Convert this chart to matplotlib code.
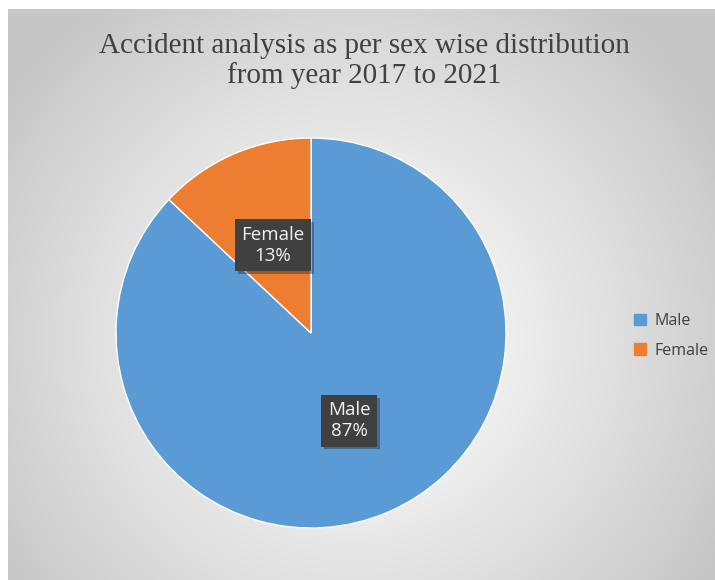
import numpy as np
import matplotlib.pyplot as plt
import matplotlib.patheffects as pe

labels = ['Male', 'Female']
values = [87, 13]
colors = ['#5B9BD5', '#ED7D31']

W, H = 715, 580
fig = plt.figure(figsize=(W / 100, H / 100), dpi=100)

# radial gradient background (white centre, grey edges)
bg = fig.add_axes([8 / W, 0, 1 - 8 / W, 1 - 9 / H])
yy, xx = np.mgrid[0:571, 0:707]
cx, cy = 345, 330
d = np.sqrt((xx - cx) ** 2 + (yy - cy) ** 2) / 420
shade = 1 - 0.22 * np.clip(d, 0, 1) ** 1.2
bg.imshow(np.dstack([shade] * 3), aspect='auto', extent=[0, 1, 0, 1], origin='upper')
bg.axis('off')

# pie axes: centre (311, 333), radius ~195
r = 195
ax = fig.add_axes([(311 - r) / W, (H - 333 - r) / H, 2 * r / W, 2 * r / H])
wedges, _ = ax.pie(values, colors=colors, startangle=90, counterclock=False,
                   wedgeprops=dict(edgecolor='white', linewidth=1))
ax.set_xlim(-1, 1)
ax.set_ylim(-1, 1)
ax.set_aspect('auto')

angle = 90
for lab, v in zip(labels, values):
    mid = np.deg2rad(angle - v / 2 * 3.6)
    angle -= v * 3.6
    x, y = 0.49 * np.cos(mid), 0.49 * np.sin(mid)
    t = ax.text(x, y, f'{lab}\n{v}%', ha='center', va='center', color='#f2f2f2',
                fontsize=13.5, family='Open Sans', linespacing=1.2,
                bbox=dict(boxstyle='square,pad=0.35', facecolor='#404040', edgecolor='none'))
    t.get_bbox_patch().set_path_effects([pe.SimplePatchShadow(offset=(2, -2), alpha=0.35),
                                         pe.Normal()])

fig.text(0.51, 1 - 61 / H, 'Accident analysis as per sex wise distribution\nfrom year 2017 to 2021',
         ha='center', va='center', fontsize=21, family='Liberation Serif',
         color='#404040', linespacing=1.1)

handles = [plt.Rectangle((0, 0), 1, 1, color=c) for c in colors]
fig.legend(handles, labels, loc='center left', bbox_to_anchor=(620 / W, 1 - 336 / H),
           frameon=False, prop={'family': 'Open Sans', 'size': 11.5},
           handlelength=0.75, handleheight=0.75, handletextpad=0.5, labelspacing=0.85,
           labelcolor='#404040')

fig.savefig('out.png', dpi=100)
